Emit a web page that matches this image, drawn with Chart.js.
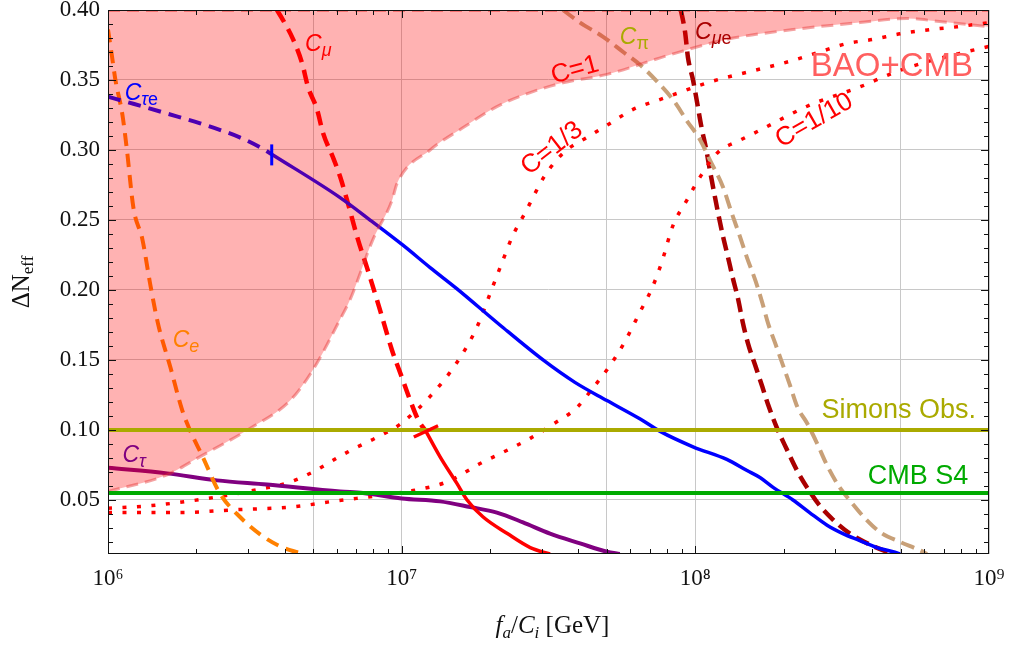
<!DOCTYPE html>
<html>
<head>
<meta charset="utf-8">
<script src="https://cdn.jsdelivr.net/npm/chart.js@4.4.1/dist/chart.umd.min.js"></script>
<style>
  html, body { margin: 0; padding: 0; background: #fff; }
  #chart { display: block; }
</style>
</head>
<body>
<canvas id="chart" width="1009" height="646"></canvas>
<script>
// values: x = f_a/C_i in GeV, y = Delta N_eff
const xGridTicks = [1e6, 5e6, 1e7, 5e7, 1e8, 5e8, 1e9];
const xTickLabels = { 1000000: "10⁶", 10000000: "10⁷", 100000000: "10⁸", 1000000000: "10⁹" };
const yTicks = [0.05, 0.10, 0.15, 0.20, 0.25, 0.30, 0.35, 0.40];

// BAO+CMB excluded region (lower boundary, filled up to the top)
const baoX = [1.0e6, 1.59e6, 2.06e6, 3.04e6, 4.17e6, 4.99e6, 6.17e6, 6.67e6, 7.98e6, 9.27e6, 9.64e6, 1.25e7, 1.62e7, 2.11e7, 2.74e7, 3.54e7, 5.0e7, 8.2e7, 1.28e8, 2.15e8, 3.63e8, 5.25e8, 6.65e8, 1.0e9];
const baoY = [0.056, 0.068, 0.081, 0.101, 0.121, 0.143, 0.179, 0.193, 0.236, 0.264, 0.276, 0.300, 0.316, 0.331, 0.341, 0.348, 0.354, 0.368, 0.379, 0.386, 0.391, 0.394, 0.392, 0.388];

// C_tau e
const tauEDashX = [1.0e6, 1.22e6, 1.59e6, 2.06e6, 2.81e6, 3.29e6, 3.61e6];
const tauEDashY = [0.338, 0.333, 0.326, 0.319, 0.309, 0.302, 0.297];
const tauESolidX = [3.61e6, 6.17e6, 7.92e6, 1.01e7, 1.25e7, 1.54e7, 2.16e7, 3.03e7, 3.89e7, 5.0e7, 6.47e7, 7.59e7, 9.82e7, 1.28e8, 1.50e8, 1.66e8, 1.84e8, 2.15e8, 2.45e8, 2.81e8, 3.18e8, 3.63e8, 4.15e8, 4.71e8, 4.98e8];
const tauESolidY = [0.297, 0.266, 0.249, 0.232, 0.216, 0.201, 0.175, 0.150, 0.134, 0.121, 0.108, 0.099, 0.088, 0.079, 0.071, 0.066, 0.059, 0.050, 0.041, 0.032, 0.026, 0.021, 0.016, 0.013, 0.0114];
const tauETickX = [3.61e6, 3.61e6];
const tauETickY = [0.289, 0.304];

// C_e
const eX = [1.0e6, 1.03e6, 1.06e6, 1.12e6, 1.16e6, 1.22e6, 1.31e6, 1.39e6, 1.48e6, 1.63e6, 1.79e6, 1.90e6, 2.10e6, 2.40e6, 2.81e6, 3.37e6, 3.94e6, 4.61e6];
const eY = [0.386, 0.368, 0.350, 0.325, 0.300, 0.259, 0.236, 0.205, 0.176, 0.145, 0.114, 0.100, 0.081, 0.055, 0.038, 0.024, 0.016, 0.0114];

// C_mu
const muDashX = [3.76e6, 3.94e6, 4.27e6, 4.58e6, 4.80e6, 5.15e6, 5.40e6, 5.83e6, 6.17e6, 6.52e6, 7.10e6, 7.62e6, 8.43e6, 9.27e6, 1.0e7, 1.07e7, 1.14e7, 1.21e7];
const muDashY = [0.400, 0.393, 0.379, 0.362, 0.345, 0.329, 0.312, 0.295, 0.281, 0.264, 0.236, 0.216, 0.186, 0.157, 0.138, 0.121, 0.107, 0.099];
const muSolidX = [1.21e7, 1.35e7, 1.54e7, 1.67e7, 1.89e7, 2.29e7, 2.74e7, 3.20e7];
const muSolidY = [0.099, 0.081, 0.062, 0.050, 0.038, 0.026, 0.016, 0.0114];
const muTickX = [1.10e7, 1.33e7];
const muTickY = [0.095, 0.103];

// C_tau
const tauX = [1.0e6, 1.59e6, 2.35e6, 3.48e6, 6.17e6, 7.38e6, 1.0e7, 1.35e7, 1.71e7, 2.11e7, 2.59e7, 3.20e7, 4.05e7, 5.0e7, 5.53e7];
const tauY = [0.073, 0.069, 0.064, 0.061, 0.056, 0.055, 0.051, 0.049, 0.045, 0.041, 0.034, 0.026, 0.019, 0.013, 0.0114];

// C = 1/3 and C = 1/10 (dotted)
const c3X = [1.0e6, 1.41e6, 2.17e6, 3.34e6, 4.06e6, 4.99e6, 6.03e6, 6.78e6, 8.11e6, 9.86e6, 1.25e7, 1.54e7, 1.80e7, 2.03e7, 2.20e7, 2.38e7, 2.63e7, 3.08e7, 3.60e7, 4.28e7, 5.12e7, 6.14e7, 7.57e7, 1.14e8, 1.34e8, 1.75e8, 2.15e8, 2.65e8, 3.28e8, 4.03e8, 4.98e8, 6.30e8, 7.78e8, 1.0e9];
const c3Y = [0.044, 0.046, 0.051, 0.058, 0.062, 0.070, 0.080, 0.086, 0.094, 0.104, 0.124, 0.148, 0.173, 0.201, 0.220, 0.238, 0.255, 0.282, 0.299, 0.309, 0.319, 0.329, 0.336, 0.349, 0.353, 0.359, 0.364, 0.370, 0.376, 0.379, 0.383, 0.386, 0.388, 0.391];
const c10X = [1.0e6, 1.76e6, 2.70e6, 4.23e6, 5.83e6, 8.97e6, 1.11e7, 1.43e7, 1.85e7, 2.21e7, 2.74e7, 3.27e7, 3.95e7, 4.48e7, 5.12e7, 5.75e7, 6.47e7, 7.11e7, 7.69e7, 8.39e7, 9.35e7, 1.04e8, 1.19e8, 1.42e8, 1.62e8, 2.45e8, 3.63e8, 4.71e8, 6.15e8, 7.96e8, 1.0e9];
const c10Y = [0.041, 0.041, 0.043, 0.045, 0.049, 0.054, 0.057, 0.063, 0.076, 0.084, 0.094, 0.104, 0.116, 0.130, 0.146, 0.163, 0.184, 0.201, 0.220, 0.246, 0.264, 0.281, 0.298, 0.307, 0.313, 0.332, 0.345, 0.355, 0.363, 0.369, 0.374];

// C_pi and C_mu e
const piX = [3.54e7, 4.05e7, 4.84e7, 5.68e7, 6.47e7, 7.40e7, 8.39e7, 9.35e7, 1.04e8, 1.12e8, 1.24e8, 1.33e8, 1.42e8, 1.50e8, 1.60e8, 1.69e8, 1.77e8, 1.87e8, 1.99e8, 2.10e8, 2.23e8, 2.40e8, 2.59e8, 2.82e8, 3.10e8, 3.41e8, 3.78e8, 4.26e8, 4.98e8, 5.82e8, 6.15e8];
const piY = [0.400, 0.391, 0.381, 0.370, 0.361, 0.349, 0.336, 0.321, 0.307, 0.293, 0.274, 0.255, 0.238, 0.223, 0.207, 0.191, 0.176, 0.162, 0.146, 0.132, 0.116, 0.105, 0.091, 0.074, 0.059, 0.048, 0.037, 0.027, 0.020, 0.014, 0.0114];
const mueX = [8.93e7, 9.23e7, 9.44e7, 9.82e7, 1.01e8, 1.05e8, 1.09e8, 1.12e8, 1.19e8, 1.24e8, 1.29e8, 1.34e8, 1.40e8, 1.45e8, 1.51e8, 1.60e8, 1.69e8, 1.77e8, 1.90e8, 2.05e8, 2.22e8, 2.40e8, 2.65e8, 2.94e8, 3.36e8, 3.94e8, 4.60e8];
const mueY = [0.400, 0.384, 0.366, 0.350, 0.336, 0.316, 0.300, 0.286, 0.257, 0.239, 0.224, 0.209, 0.193, 0.177, 0.162, 0.146, 0.131, 0.118, 0.101, 0.086, 0.071, 0.059, 0.046, 0.036, 0.026, 0.018, 0.012];

// experimental sensitivities
const simonsY = 0.10;
const cmbS4Y = 0.055;

// curve labels: anchor = left edge / baseline of the "C"
const curveLabels = [
  { x: 1.14e6, y: 0.336, sub: [["τ", true], ["e", false]], color: "rgb(0,0,255)" },
  { x: 4.69e6, y: 0.371, sub: [["μ", true]], color: "rgb(255,0,0)" },
  { x: 1.66e6, y: 0.159, sub: [["e", true]], color: "rgb(255,128,0)" },
  { x: 1.12e6, y: 0.077, sub: [["τ", true]], color: "rgb(128,0,128)" },
  { x: 5.53e7, y: 0.376, sub: [["π", false]], color: "rgb(170,170,0)" },
  { x: 9.98e7, y: 0.379, sub: [["μ", true], ["e", false]], color: "rgb(170,0,0)" },
];
const textLabels = [
  { text: "C=1", x: 3.89e7, y: 0.357, angle: -15, size: 26, color: "rgb(255,0,0)" },
  { text: "C=1/3", x: 3.25e7, y: 0.301, angle: -38, size: 26, color: "rgb(255,0,0)" },
  { text: "C=1/10", x: 2.54e8, y: 0.321, angle: -30, size: 26, color: "rgb(255,0,0)" },
  { text: "BAO+CMB", x: 4.67e8, y: 0.359, angle: 0, size: 33, color: "rgb(255,95,95)" },
  { text: "Simons Obs.", x: 4.93e8, y: 0.1136, angle: 0, size: 27, color: "rgb(170,170,0)" },
  { text: "CMB S4", x: 5.73e8, y: 0.0664, angle: 0, size: 27, color: "rgb(0,170,0)" },
];

const pts = (xs, ys) => xs.map((x, i) => ({ x: x, y: ys[i] }));
const hline = (y) => [{ x: 1e6, y: y }, { x: 1e9, y: y }];

function line(data, color, width, dash, order, extra) {
  return Object.assign({
    data: data,
    borderColor: color,
    borderWidth: width,
    borderDash: dash || [],
    borderCapStyle: "butt",
    pointRadius: 0,
    cubicInterpolationMode: "monotone",
    fill: false,
    clip: 0,
    order: order,
  }, extra || {});
}

const baoLine = "rgba(230,50,50,0.45)";
const dotted = [4, 10.5];
const straight = { cubicInterpolationMode: "default", tension: 0 };

const datasets = [
  line(pts(tauETickX, tauETickY), "rgb(0,0,255)", 3, null, 0, straight),
  line(pts(muTickX, muTickY), "rgb(255,0,0)", 3.5, null, 0, straight),
  line(hline(simonsY), "rgb(170,170,0)", 4, null, 1, straight),
  line(hline(cmbS4Y), "rgb(0,170,0)", 4, null, 1, straight),
  line(pts(baoX, baoY), baoLine, 3, [12, 7], 2, { fill: "end", backgroundColor: "rgba(255,0,0,0.3)" }),
  line(hline(0.40), baoLine, 4, [12, 7], 2, straight),
  line(pts(muSolidX, muSolidY), "rgb(255,0,0)", 3.5, null, 3),
  line(pts(tauESolidX, tauESolidY), "rgb(0,0,255)", 3.5, null, 4),
  line(pts(tauEDashX, tauEDashY), "rgb(0,0,255)", 4, [13, 8], 4),
  line(pts(eX, eY), "rgb(255,128,0)", 4, [13, 8], 4),
  line(pts(muDashX, muDashY), "rgb(255,0,0)", 4.5, [14, 8], 4),
  line(pts(tauX, tauY), "rgb(128,0,128)", 4, null, 4),
  line(pts(c3X, c3Y), "rgb(255,0,0)", 3.5, dotted, 4),
  line(pts(c10X, c10Y), "rgb(255,0,0)", 3.5, dotted, 4),
  line(pts(piX, piY), "rgb(200,160,120)", 4, [14, 7], 4),
  line(pts(mueX, mueY), "rgb(170,0,0)", 4.5, [14, 7], 4),
];

function drawRuns(ctx, runs, x, y, center) {
  let w = 0;
  runs.forEach(r => { ctx.font = r.font; w += ctx.measureText(r.text).width; });
  let cx = center ? x - w / 2 : x;
  runs.forEach(r => {
    ctx.font = r.font;
    ctx.fillText(r.text, cx, y + (r.dy || 0));
    cx += ctx.measureText(r.text).width;
  });
}

const decorPlugin = {
  id: "decor",
  afterDatasetsDraw(chart) {
    const { ctx, chartArea: a, scales: { x, y } } = chart;
    ctx.save();
    ctx.textAlign = "left";
    ctx.textBaseline = "alphabetic";

    // curve labels
    curveLabels.forEach(l => {
      ctx.fillStyle = l.color;
      const runs = [{ text: "C", font: "italic 23px 'Liberation Sans'" }];
      l.sub.forEach(s => runs.push({ text: s[0], font: (s[1] ? "italic " : "") + "18px 'Liberation Sans'", dy: 5 }));
      drawRuns(ctx, runs, x.getPixelForValue(l.x), y.getPixelForValue(l.y), false);
    });

    // plain / rotated labels
    textLabels.forEach(l => {
      ctx.save();
      ctx.translate(x.getPixelForValue(l.x), y.getPixelForValue(l.y));
      ctx.rotate(l.angle * Math.PI / 180);
      ctx.font = l.size + "px 'Liberation Sans'";
      ctx.fillStyle = l.color;
      ctx.textAlign = "center";
      ctx.textBaseline = "middle";
      ctx.fillText(l.text, 0, 0);
      ctx.restore();
    });

    // axis titles
    ctx.fillStyle = "#111";
    drawRuns(ctx, [
      { text: "f", font: "italic 25px 'Liberation Serif'" },
      { text: "a", font: "italic 17px 'Liberation Serif'", dy: 5 },
      { text: "/", font: "25px 'Liberation Serif'" },
      { text: "C", font: "italic 25px 'Liberation Serif'" },
      { text: "i", font: "italic 17px 'Liberation Serif'", dy: 5 },
      { text: " [GeV]", font: "25px 'Liberation Serif'" },
    ], (a.left + a.right) / 2 + 4, 633, true);
    ctx.save();
    ctx.translate(29, (a.top + a.bottom) / 2);
    ctx.rotate(-Math.PI / 2);
    drawRuns(ctx, [
      { text: "ΔN", font: "25px 'Liberation Serif'" },
      { text: "eff", font: "17px 'Liberation Serif'", dy: 4 },
    ], 0, 0, true);
    ctx.restore();

    // frame with inward ticks
    ctx.strokeStyle = "#111";
    ctx.lineWidth = 1;
    ctx.beginPath();
    for (let e = 6; e <= 8; e++) {
      for (let m = 1; m <= 9; m++) {
        if (e === 6 && m === 1) continue;
        const px = Math.round(x.getPixelForValue(m * Math.pow(10, e))) + 0.5;
        const len = m === 1 ? 8 : 5;
        ctx.moveTo(px, a.bottom); ctx.lineTo(px, a.bottom - len);
        ctx.moveTo(px, a.top); ctx.lineTo(px, a.top + len);
      }
    }
    for (let k = 2; k <= 39; k++) {
      const py = Math.round(y.getPixelForValue(k / 100)) + 0.5;
      const len = k % 5 === 0 ? 8 : 5;
      ctx.moveTo(a.left, py); ctx.lineTo(a.left + len, py);
      ctx.moveTo(a.right, py); ctx.lineTo(a.right - len, py);
    }
    ctx.stroke();
    ctx.strokeRect(Math.round(a.left) + 0.5, Math.round(a.top) + 0.5, Math.round(a.width) - 1, Math.round(a.height) - 1);
    ctx.restore();
  },
};

new Chart(document.getElementById("chart").getContext("2d"), {
  type: "line",
  data: { datasets: datasets },
  plugins: [decorPlugin],
  options: {
    responsive: false,
    animation: false,
    devicePixelRatio: 1,
    events: [],
    layout: { padding: { top: 10, right: 20, left: 0, bottom: 0 } },
    plugins: { legend: { display: false }, tooltip: { enabled: false } },
    scales: {
      x: {
        type: "logarithmic",
        min: 1e6,
        max: 1e9,
        afterBuildTicks: (s) => { s.ticks = xGridTicks.map(v => ({ value: v })); },
        afterFit: (s) => { s.height = 92; s.paddingLeft = 0; s.paddingRight = 0; },
        grid: { color: "#c8c8c8", lineWidth: 1, drawTicks: false },
        border: { display: false },
        ticks: {
          autoSkip: false,
          maxRotation: 0,
          padding: 11,
          color: "#111",
          font: { family: "'Liberation Serif'", size: 23 },
          callback: (v) => xTickLabels[v] || "",
        },
      },
      y: {
        type: "linear",
        min: 0.0114,
        max: 0.40,
        afterBuildTicks: (s) => { s.ticks = yTicks.map(v => ({ value: v })); },
        afterFit: (s) => { s.width = 108; s.paddingTop = 0; s.paddingBottom = 0; },
        grid: { color: "#c8c8c8", lineWidth: 1, drawTicks: false },
        border: { display: false },
        ticks: {
          padding: 8,
          color: "#111",
          font: { family: "'Liberation Serif'", size: 23 },
          callback: (v) => v.toFixed(2),
        },
      },
    },
  },
});
</script>
</body>
</html>
